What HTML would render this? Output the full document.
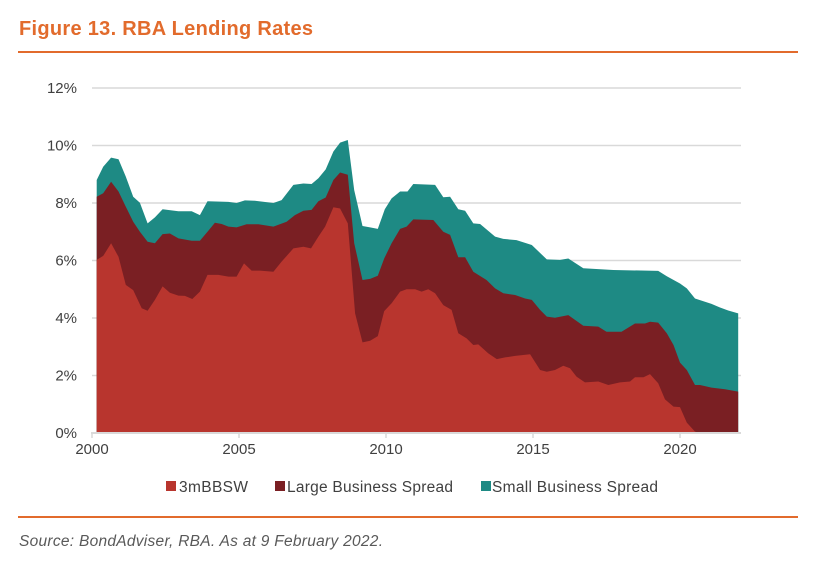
<!DOCTYPE html>
<html><head><meta charset="utf-8"><style>
body{margin:0;background:#fff;width:834px;height:566px;overflow:hidden;font-family:"Liberation Sans",Arial,sans-serif}
</style></head><body>
<svg width="834" height="566" viewBox="0 0 834 566" xmlns="http://www.w3.org/2000/svg">
<text x="19" y="35" font-size="20" font-weight="bold" fill="#e26b2c" textLength="294">Figure 13. RBA Lending Rates</text>
<rect x="18" y="51" width="780" height="2" fill="#e26b2c"/>
<g id="grid"></g>
<g id="areas"></g>
<g id="axes"></g>
<g>
<rect x="166" y="481" width="10" height="10" fill="#b8352e"/>
<text x="179" y="492" font-size="15.5" fill="#404040" textLength="69">3mBBSW</text>
<rect x="275" y="481" width="10" height="10" fill="#7a1f23"/>
<text x="287" y="492" font-size="15.5" fill="#404040" textLength="166">Large Business Spread</text>
<rect x="481" y="481" width="10" height="10" fill="#1e8a84"/>
<text x="492" y="492" font-size="15.5" fill="#404040" textLength="166">Small Business Spread</text>
</g>
<rect x="18" y="516" width="780" height="2" fill="#e26b2c"/>
<text x="19" y="546" font-size="15.5" font-style="italic" fill="#595959" textLength="364">Source: BondAdviser, RBA. As at 9 February 2022.</text>
</svg>
<script>
const bbswYears=[2000.16,2000.38,2000.65,2000.9,2001.15,2001.4,2001.69,2001.89,2002.14,2002.4,2002.65,2002.94,2003.16,2003.41,2003.67,2003.93,2004.3,2004.64,2004.92,2005.17,2005.43,2005.71,2006.17,2006.45,2006.85,2007.19,2007.45,2007.7,2007.93,2008.21,2008.44,2008.7,2008.95,2009.2,2009.46,2009.72,2009.94,2010.19,2010.48,2010.7,2010.99,2011.21,2011.44,2011.67,2011.95,2012.23,2012.46,2012.74,2012.97,2013.14,2013.48,2013.77,2014.05,2014.39,2014.9,2015.24,2015.47,2015.75,2016.03,2016.26,2016.48,2016.77,2017.22,2017.56,2017.96,2018.3,2018.47,2018.76,2018.98,2019.26,2019.49,2019.78,2020.0,2020.23,2020.51,2020.68,2021.98];
const bbswValues=[6.02,6.16,6.6,6.13,5.15,4.97,4.34,4.25,4.63,5.1,4.88,4.78,4.77,4.66,4.92,5.5,5.5,5.44,5.44,5.9,5.65,5.65,5.61,5.96,6.42,6.48,6.42,6.83,7.18,7.85,7.81,7.29,4.16,3.15,3.21,3.37,4.24,4.51,4.92,5.0,5.0,4.92,5.0,4.86,4.45,4.28,3.47,3.29,3.06,3.08,2.77,2.57,2.63,2.68,2.74,2.19,2.13,2.19,2.34,2.25,1.96,1.76,1.79,1.67,1.76,1.79,1.94,1.94,2.05,1.73,1.17,0.92,0.9,0.36,0.05,0.0,0.0];
const largeYears=[2000.16,2000.38,2000.65,2000.9,2001.15,2001.4,2001.63,2001.89,2002.14,2002.4,2002.65,2002.94,2003.39,2003.67,2003.93,2004.18,2004.41,2004.64,2004.92,2005.26,2005.66,2006.17,2006.62,2006.9,2007.19,2007.47,2007.7,2007.95,2008.21,2008.44,2008.7,2008.92,2009.2,2009.46,2009.72,2009.94,2010.19,2010.48,2010.7,2010.93,2011.61,2011.95,2012.18,2012.46,2012.69,2012.97,2013.42,2013.71,2013.99,2014.39,2014.73,2014.96,2015.24,2015.47,2015.75,2016.2,2016.71,2017.22,2017.5,2018.01,2018.47,2018.81,2018.98,2019.26,2019.55,2019.78,2020.0,2020.23,2020.51,2020.68,2021.07,2021.53,2021.98];
const largeRateValues=[8.22,8.34,8.74,8.4,7.87,7.35,7.0,6.65,6.6,6.92,6.94,6.77,6.69,6.69,7.0,7.31,7.27,7.18,7.15,7.26,7.26,7.18,7.35,7.58,7.73,7.76,8.06,8.19,8.8,9.06,8.98,6.6,5.32,5.36,5.47,6.07,6.6,7.1,7.18,7.43,7.41,7.0,6.89,6.11,6.11,5.61,5.32,5.03,4.86,4.8,4.68,4.63,4.28,4.05,4.01,4.1,3.73,3.7,3.52,3.52,3.81,3.81,3.87,3.84,3.47,3.06,2.45,2.19,1.67,1.67,1.58,1.52,1.44];
const smallYears=[2000.16,2000.38,2000.65,2000.9,2001.15,2001.4,2001.63,2001.89,2002.14,2002.4,2002.94,2003.39,2003.67,2003.93,2004.64,2004.92,2005.2,2005.54,2006.17,2006.45,2006.85,2007.19,2007.47,2007.7,2007.95,2008.21,2008.44,2008.7,2008.92,2009.2,2009.46,2009.72,2009.96,2010.19,2010.48,2010.73,2010.93,2011.67,2011.95,2012.18,2012.46,2012.69,2012.97,2013.2,2013.71,2013.99,2014.44,2014.96,2015.47,2015.92,2016.2,2016.71,2017.22,2017.73,2019.26,2019.55,2020.0,2020.23,2020.51,2021.07,2021.35,2021.64,2021.98];
const smallRateValues=[8.8,9.26,9.58,9.52,8.92,8.22,8.01,7.29,7.5,7.78,7.71,7.71,7.58,8.06,8.04,8.0,8.09,8.08,8.0,8.1,8.63,8.68,8.66,8.86,9.17,9.79,10.1,10.19,8.45,7.2,7.15,7.1,7.78,8.16,8.4,8.4,8.66,8.63,8.2,8.22,7.78,7.73,7.29,7.27,6.83,6.75,6.71,6.54,6.04,6.02,6.07,5.73,5.7,5.67,5.64,5.45,5.2,5.03,4.68,4.49,4.37,4.26,4.16];
const yTicks=[0,2,4,6,8,10,12];
const xTicks=[2000,2005,2010,2015,2020];

const NS='http://www.w3.org/2000/svg';
const X0=92,PXY=29.4,Y0=433,PXP=28.75;
function xs(y){return X0+(y-2000)*PXY;}
function ys(v){return Y0-v*PXP;}
function mk(tag,attrs,parent){const e=document.createElementNS(NS,tag);for(const k in attrs)e.setAttribute(k,attrs[k]);parent.appendChild(e);return e;}
const grid=document.getElementById('grid'),areas=document.getElementById('areas'),axes=document.getElementById('axes');
yTicks.forEach(t=>{
  if(t>0){const l=mk('line',{x1:92,x2:741,y1:ys(t),y2:ys(t),stroke:'#d9d9d9','stroke-width':1.5},grid);
  
  }
  const tx=mk('text',{x:77,y:ys(t)+5,'text-anchor':'end','font-size':15,fill:'#404040'},axes);
  tx.textContent=t+'%';
  
  
});
function area(yrs,vals,color,name){
  let d='M'+xs(yrs[0]).toFixed(1)+','+Y0;
  yrs.forEach((y,i)=>{d+=' L'+xs(y).toFixed(1)+','+ys(vals[i]).toFixed(1);});
  d+=' L'+xs(yrs[yrs.length-1]).toFixed(1)+','+Y0+' Z';
  const p=mk('path',{d:d,fill:color},areas);
  
  
}
area(smallYears,smallRateValues,'#1e8a84','area-small-business-spread');
area(largeYears,largeRateValues,'#7a1f23','area-large-business-spread');
area(bbswYears,bbswValues,'#b8352e','area-3mbbsw');
const ax=mk('line',{x1:91,x2:741,y1:Y0,y2:Y0,stroke:'#d9d9d9','stroke-width':2},axes);


xTicks.forEach(t=>{
  const tk=mk('line',{x1:xs(t),x2:xs(t),y1:Y0,y2:Y0+5,stroke:'#d9d9d9','stroke-width':1.5},axes);
  
  
  const tx=mk('text',{x:xs(t),y:Y0+21,'text-anchor':'middle','font-size':15,fill:'#404040'},axes);
  tx.textContent=t;
  
  
});
</script>
</body></html>
